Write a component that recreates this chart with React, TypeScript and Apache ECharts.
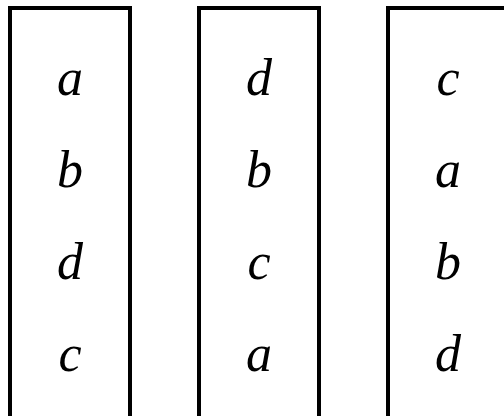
import React, { useEffect, useRef } from "react";
import * as echarts from "echarts";

// Data: the letters in each column, top to bottom
const columnNames = ["first", "second", "third"];
const column1 = ["a", "b", "d", "c"];
const column2 = ["d", "b", "c", "a"];
const column3 = ["c", "a", "b", "d"];
const columns = [column1, column2, column3];

// Layout (pixels)
const W = 504;
const H = 416;
const COL_SPACING = 189; // px between column centers
const FIRST_COL_X = 70; // px center of first column
const ROW_SPACING = 92; // px between rows
const FIRST_ROW_Y = 77; // px center of first row
const BOX_WIDTH = 120;
const BOX_TOP = 8;

export default function App() {
  const ref = useRef<HTMLDivElement>(null);
  useEffect(() => {
    if (!ref.current) return;
    const chart = echarts.init(ref.current, null, { renderer: "svg" });
    const xMin = -FIRST_COL_X / COL_SPACING;
    const xMax = xMin + W / COL_SPACING;
    const yMin = -FIRST_ROW_Y / ROW_SPACING;
    const yMax = yMin + H / ROW_SPACING;
    const boxTopVal = (BOX_TOP - FIRST_ROW_Y) / ROW_SPACING;

    const boxData = columns.map((_, i) => [i]);
    const letterData: any[] = [];
    columns.forEach((col, ci) =>
      col.forEach((letter, ri) => letterData.push([ci, ri, letter]))
    );

    chart.setOption({
      animation: false,
      grid: { left: 0, right: 0, top: 0, bottom: 0 },
      xAxis: { type: "value", min: xMin, max: xMax, show: false },
      yAxis: { type: "value", min: yMin, max: yMax, inverse: true, show: false },
      series: [
        {
          type: "custom",
          name: "boxes",
          data: boxData,
          renderItem: (params: any, api: any) => {
            const ci = api.value(0);
            const top = api.coord([ci, boxTopVal]);
            const halfW = BOX_WIDTH / 2;
            const bottom = H + 20;
            return {
              type: "polyline",
              shape: {
                points: [
                  [top[0] - halfW, bottom],
                  [top[0] - halfW, top[1]],
                  [top[0] + halfW, top[1]],
                  [top[0] + halfW, bottom],
                ],
              },
              style: {
                stroke: "#000",
                lineWidth: 4,
                fill: "none",
                lineJoin: "miter",
              },
            };
          },
        },
        {
          type: "custom",
          name: "letters",
          data: letterData,
          renderItem: (params: any, api: any) => {
            const p = api.coord([api.value(0), api.value(1)]);
            const letter = letterData[params.dataIndex][2];
            return {
              type: "text",
              x: p[0],
              y: p[1],
              style: {
                text: letter,
                fill: "#000",
                fontSize: 52,
                fontFamily: "'Liberation Serif', 'Times New Roman', serif",
                fontStyle: "italic",
                align: "center",
                verticalAlign: "middle",
              },
            };
          },
        },
      ],
    });
    return () => chart.dispose();
  }, []);
  return (
    <div
      ref={ref}
      style={{ position: "fixed", left: 0, top: 0, width: W, height: H, background: "#fff" }}
    />
  );
}
